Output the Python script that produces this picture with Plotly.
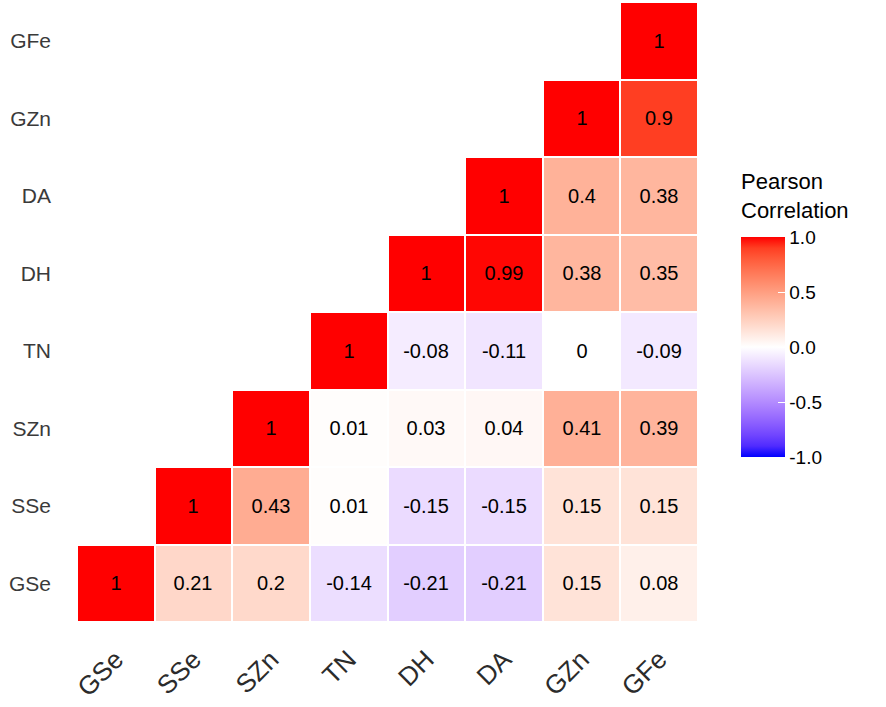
import numpy as np
import plotly.graph_objects as go

# -----------------------------
# DATA
# -----------------------------
traits = ["GSe", "SSe", "SZn", "TN", "DH", "DA", "GZn", "GFe"]

# one list per row (bottom row first), only the upper triangle is shown
r_gse = [1, 0.21, 0.2, -0.14, -0.21, -0.21, 0.15, 0.08]
r_sse = [None, 1, 0.43, 0.01, -0.15, -0.15, 0.15, 0.15]
r_szn = [None, None, 1, 0.01, 0.03, 0.04, 0.41, 0.39]
r_tn = [None, None, None, 1, -0.08, -0.11, 0, -0.09]
r_dh = [None, None, None, None, 1, 0.99, 0.38, 0.35]
r_da = [None, None, None, None, None, 1, 0.4, 0.38]
r_gzn = [None, None, None, None, None, None, 1, 0.9]
r_gfe = [None, None, None, None, None, None, None, 1]

z = [r_gse, r_sse, r_szn, r_tn, r_dh, r_da, r_gzn, r_gfe]
labels = [["" if v is None else f"{v:g}" for v in row] for row in z]

colorbar_ticks = [-1.0, -0.5, 0.0, 0.5, 1.0]


# -----------------------------
# COLOURS (blue - white - red, mixed in Lab like ggplot)
# -----------------------------
def to_lab(rgb):
    c = np.array(rgb) / 255.0
    c = np.where(c > 0.04045, ((c + 0.055) / 1.055) ** 2.4, c / 12.92)
    m = np.array([[0.4124, 0.3576, 0.1805],
                  [0.2126, 0.7152, 0.0722],
                  [0.0193, 0.1192, 0.9505]])
    xyz = m @ c / np.array([0.95047, 1.0, 1.08883])
    f = np.where(xyz > 0.008856, np.cbrt(xyz), 7.787 * xyz + 16 / 116)
    return np.array([116 * f[1] - 16, 500 * (f[0] - f[1]), 200 * (f[1] - f[2])])


def from_lab(lab):
    fy = (lab[0] + 16) / 116
    f = np.array([fy + lab[1] / 500, fy, fy - lab[2] / 200])
    xyz = np.where(f ** 3 > 0.008856, f ** 3, (f - 16 / 116) / 7.787)
    xyz = xyz * np.array([0.95047, 1.0, 1.08883])
    m = np.array([[3.2406, -1.5372, -0.4986],
                  [-0.9689, 1.8758, 0.0415],
                  [0.0557, -0.2040, 1.0570]])
    c = m @ xyz
    c = np.where(c > 0.0031308, 1.055 * np.clip(c, 0, None) ** (1 / 2.4) - 0.055, 12.92 * c)
    c = np.clip(c, 0, 1) * 255
    return "rgb(%d,%d,%d)" % tuple(np.round(c))


blue, white, red = to_lab((0, 0, 255)), to_lab((255, 255, 255)), to_lab((255, 0, 0))
colorscale = []
for t in np.linspace(0, 1, 21):
    if t <= 0.5:
        lab = blue + (white - blue) * (t / 0.5)
    else:
        lab = white + (red - white) * ((t - 0.5) / 0.5)
    colorscale.append([float(t), from_lab(lab)])

# -----------------------------
# FIGURE
# -----------------------------
fig = go.Figure(go.Heatmap(
    x=traits,
    y=traits,
    z=z,
    text=labels,
    texttemplate="%{text}",
    textfont=dict(size=20, color="black", family="Liberation Sans"),
    colorscale=colorscale,
    zmin=-1, zmax=1,
    xgap=2, ygap=2,
    hoverongaps=False,
    colorbar=dict(
        tickvals=colorbar_ticks,
        ticktext=["-1.0", "-0.5", "0.0", "0.5", "1.0"],
        tickfont=dict(size=19, color="black"),
        ticks="inside", ticklen=7, tickcolor="white",
        thickness=44, thicknessmode="pixels",
        len=220, lenmode="pixels",
        x=1.07, xanchor="left",
        y=0.443, yanchor="middle",
        outlinewidth=0,
        xpad=0, ypad=0,
    ),
))

# legend title as a plain annotation above the colour bar
fig.add_annotation(
    text="Pearson<br>Correlation",
    xref="paper", yref="paper",
    x=1.066, y=0.64, xanchor="left", yanchor="bottom",
    align="left", showarrow=False,
    font=dict(size=22, color="black"),
)

fig.update_layout(
    width=886, height=707,
    margin=dict(l=77, r=188, t=2, b=85, autoexpand=False),
    plot_bgcolor="white",
    paper_bgcolor="white",
    font=dict(family="Liberation Sans"),
)
fig.update_xaxes(tickangle=-45, tickfont=dict(size=26, color="#2b2b2b"),
                 showgrid=False, zeroline=False, ticks="", ticklabelstandoff=16,
                 automargin=False)
fig.update_yaxes(tickfont=dict(size=21, color="#3a3a3a"),
                 showgrid=False, zeroline=False, ticks="", ticklabelstandoff=25,
                 automargin=False)

# drop the page's default 8px body margin so the figure sits at the corner
fig.write_html("out.html", config={"displayModeBar": False},
               post_script="document.body.style.margin='0';")
